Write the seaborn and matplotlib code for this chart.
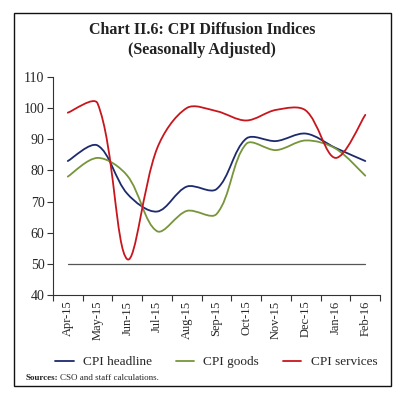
import numpy as np
import pandas as pd
import seaborn as sns
import matplotlib.pyplot as plt
from matplotlib.path import Path
from matplotlib.patches import PathPatch, Rectangle


months = ['Apr-15', 'May-15', 'Jun-15', 'Jul-15', 'Aug-15', 'Sep-15',
          'Oct-15', 'Nov-15', 'Dec-15', 'Jan-16', 'Feb-16']
headline = [83, 88, 72.5, 66.8, 74.8, 74, 90.2, 89.4, 91.8, 87.2, 83]
goods = [78, 84, 78.3, 60.5, 67, 66, 88.5, 86.5, 89.6, 87, 78.3]
services = [98.5, 101.5, 51.5, 87, 100, 99, 96, 99.4, 99.2, 84, 97.8]

colors = {'CPI headline': '#1d2a6c', 'CPI goods': '#77953a',
          'CPI services': '#c8161d'}


def smooth_path(xs, ys, yscale=0.104):
    # excel-like smoothed line: chord-weighted cubic bezier
    pts = np.column_stack([xs, ys]).astype(float)
    sc = np.array([1.0, yscale])
    n = len(pts)

    def dist(a, b):
        return np.hypot(*((a - b) * sc))

    verts = [pts[0]]
    codes = [Path.MOVETO]
    for i in range(n - 1):
        p0 = pts[i - 1] if i > 0 else pts[i]
        p1 = pts[i]
        p2 = pts[i + 1]
        p3 = pts[i + 2] if i + 2 < n else pts[i + 1]
        d01, d12, d23 = dist(p0, p1), dist(p1, p2), dist(p2, p3)
        w1 = d12 / (d01 + d12) if d01 > 0 else 0.5
        w2 = d12 / (d12 + d23) if d23 > 0 else 0.5
        c1 = p1 + (p2 - p0) * w1 / 3
        c2 = p2 - (p3 - p1) * w2 / 3
        verts += [c1, c2, p2]
        codes += [Path.CURVE4] * 3
    return Path(verts, codes)


def main():
    sns.set_style('white')
    plt.rcParams['font.family'] = ['Liberation Serif', 'DejaVu Serif']

    df = pd.DataFrame({'month': months, 'CPI headline': headline,
                       'CPI goods': goods, 'CPI services': services})
    long = df.melt(id_vars='month', var_name='series', value_name='value')
    long['pos'] = long['month'].map({m: i for i, m in enumerate(months)})

    fig = plt.figure(figsize=(4.04, 3.94), dpi=100)
    ax = fig.add_axes([0.131, 0.251, 0.81, 0.554])

    sns.lineplot(data=long, x='pos', y='value', hue='series',
                 palette=colors, ax=ax, linewidth=1.3, legend=False)

    # replace straight segments with smoothed curves
    for line in ax.get_lines():
        xs, ys = line.get_data()
        ax.add_patch(PathPatch(smooth_path(xs, ys), facecolor='none',
                               edgecolor=line.get_color(), lw=1.3,
                               capstyle='round', joinstyle='round'))
        line.set_visible(False)

    ax.plot([0, len(months) - 1], [50, 50], color='#555555', lw=0.9)

    ax.set_xlim(-0.5, len(months) - 0.5)
    ax.set_ylim(40, 110)
    ax.set_yticks(range(40, 111, 10))
    ax.set_xticks(range(len(months)))
    ax.set_xticklabels(months, rotation=90, fontsize=9)
    ax.set_xticks(np.arange(-0.5, len(months)), minor=True)
    ax.tick_params(axis='x', which='major', length=0, pad=4)
    ax.tick_params(axis='x', which='minor', length=4, width=0.8,
                   color='#333333', direction='out', bottom=True)
    ax.tick_params(axis='y', length=4, width=0.8, color='#333333',
                   direction='out', left=True, labelsize=10, pad=2)
    ax.set_xlabel('')
    ax.set_ylabel('')
    for side in ['top', 'right']:
        ax.spines[side].set_visible(False)
    for side in ['left', 'bottom']:
        ax.spines[side].set_color('#333333')
        ax.spines[side].set_linewidth(0.8)

    handles = [plt.Line2D([], [], color=c, lw=1.3) for c in colors.values()]
    fig.legend(handles, list(colors.keys()), loc='center',
               bbox_to_anchor=(0.535, 0.081), ncol=3, frameon=False,
               fontsize=9.5, handlelength=1.4, handletextpad=0.7,
               columnspacing=1.8)

    fig.text(0.5, 0.924, 'Chart II.6: CPI Diffusion Indices', ha='center',
             va='center', fontsize=11.5, fontweight='bold', color='#222222')
    fig.text(0.5, 0.873, '(Seasonally Adjusted)', ha='center',
             va='center', fontsize=11.5, fontweight='bold', color='#222222')
    fig.text(0.063, 0.04, 'Sources:', ha='left', va='center',
             fontsize=6.5, fontweight='bold')
    fig.text(0.148, 0.04, 'CSO and staff calculations.', ha='left',
             va='center', fontsize=6.5)

    fig.patches.append(Rectangle((0.035, 0.02), 0.933, 0.948,
                                 transform=fig.transFigure, fill=False,
                                 edgecolor='#111111', lw=1.0))

    fig.savefig('out.png', dpi=100)


if __name__ == '__main__':
    main()
